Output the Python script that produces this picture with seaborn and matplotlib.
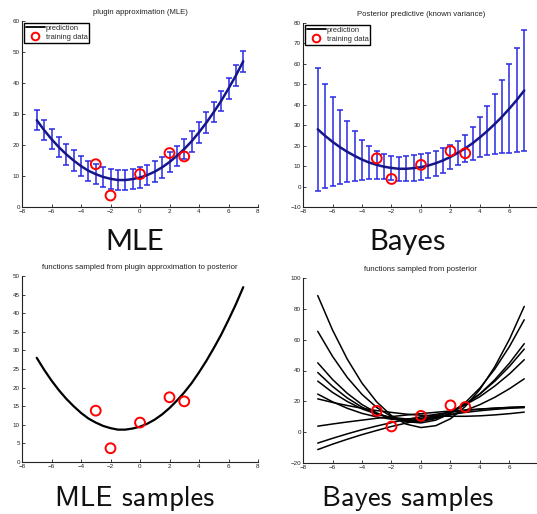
import numpy as np
import pandas as pd
import matplotlib
matplotlib.use("Agg")
import matplotlib.pyplot as plt
from matplotlib.lines import Line2D
import seaborn as sns

# ---------------- data ----------------
train_x = [-3, -2, 0, 2, 3]
train_y = [13.8, 3.7, 10.6, 17.4, 16.3]

grid_x = [-7, -6.5, -6, -5.5, -5, -4.5, -4, -3.5, -3, -2.5, -2, -1.5, -1, -0.5,
          0, 0.5, 1, 1.5, 2, 2.5, 3, 3.5, 4, 4.5, 5, 5.5, 6, 6.5, 7]
pred_y = [28.0, 24.8, 21.9, 19.3, 17.0, 15.0, 13.2, 11.7, 10.6, 9.7, 9.1, 8.7, 8.7, 9.0,
          9.5, 10.3, 11.4, 12.8, 14.5, 16.5, 18.7, 21.2, 24.1, 27.2, 30.6, 34.2, 38.2, 42.4, 47.0]
mle_err = [3.3, 3.3, 3.3, 3.3, 3.3, 3.3, 3.3, 3.3, 3.3, 3.3, 3.3, 3.3, 3.3, 3.3,
           3.3, 3.3, 3.3, 3.3, 3.3, 3.3, 3.3, 3.3, 3.3, 3.3, 3.3, 3.3, 3.3, 3.3, 3.3]
bayes_err = [30.0, 25.6, 21.7, 18.1, 14.9, 12.1, 9.8, 7.9, 6.8, 6.0, 6.0, 6.0, 6.1, 6.3,
             6.4, 6.3, 6.2, 6.1, 6.0, 5.8, 6.6, 8.0, 9.7, 12.0, 14.7, 17.9, 21.7, 25.5, 29.7]

sample_x = [-7, -6, -5, -4, -3, -2, -1, 0, 1, 2, 3, 4, 5, 6, 7]
sample_1 = [88.6, 66.3, 47.4, 31.8, 19.6, 10.7, 5.2, 3.0, 4.2, 8.7, 16.6, 27.8, 42.4, 60.3, 81.6]
sample_2 = [65.4, 49.2, 35.5, 24.5, 16.0, 10.1, 6.8, 6.0, 7.8, 12.2, 19.2, 28.7, 40.9, 55.6, 72.9]
sample_3 = [45.0, 34.2, 25.2, 17.9, 12.5, 8.8, 7.0, 7.0, 8.8, 12.4, 17.8, 24.9, 34.0, 44.8, 57.4]
sample_4 = [38.7, 29.7, 22.2, 16.2, 11.8, 9.0, 7.7, 8.0, 9.9, 13.3, 18.3, 24.8, 33.0, 42.7, 53.9]
sample_5 = [33.1, 25.8, 19.9, 15.1, 11.7, 9.6, 8.6, 9.0, 10.6, 13.5, 17.7, 23.1, 29.9, 37.8, 47.0]
sample_6 = [24.7, 19.7, 15.5, 12.2, 9.9, 8.4, 7.7, 8.0, 9.2, 11.2, 14.1, 17.9, 22.6, 28.2, 34.6]
sample_7 = [21.6, 19.3, 17.3, 15.5, 14.0, 12.8, 11.7, 11.0, 10.5, 10.3, 10.3, 10.6, 11.2, 12.0, 13.0]
sample_8 = [3.9, 5.3, 6.6, 7.8, 9.0, 10.1, 11.1, 12.0, 12.9, 13.7, 14.4, 15.0, 15.6, 16.1, 16.5]
sample_9 = [-7.1, -4.0, -1.1, 1.6, 4.0, 6.2, 8.2, 10.0, 11.6, 12.9, 14.0, 14.9, 15.5, 16.0, 16.2]
sample_10 = [-11.3, -7.8, -4.6, -1.6, 1.1, 3.7, 5.9, 8.0, 9.8, 11.4, 12.8, 13.9, 14.8, 15.5, 15.9]

titles = ["plugin approximation (MLE)", "Posterior predictive (known variance)",
          "functions sampled from plugin approximation to posterior",
          "functions sampled from posterior"]
captions = ["MLE", "Bayes", "MLE samples", "Bayes samples"]

# ---------------- style ----------------
sns.set_theme(style="white")
plt.rcParams['font.family'] = ['Liberation Sans', 'DejaVu Sans']
plt.rcParams['xtick.direction'] = 'in'
plt.rcParams['ytick.direction'] = 'in'

fig = plt.figure(figsize=(5.37, 5.14), dpi=100)
W, H = 537.0, 514.0

def make_ax(left, top, right, bottom):
    return fig.add_axes([left / W, 1 - bottom / H, (right - left) / W, (bottom - top) / H])

ax1 = make_ax(22, 21, 258, 207)
ax2 = make_ax(303, 23, 539, 207)
ax3 = make_ax(22, 276, 258, 462)
ax4 = make_ax(303, 278, 539, 463)

line_blue = '#16168a'
bar_blue = '#2a2ae6'

df_pred = pd.DataFrame({'x': grid_x, 'y': pred_y})
df_train = pd.DataFrame({'x': train_x, 'y': train_y})

def style_ax(ax, ylim, yticks, title, xticks):
    ax.set_xlim(-8, 8)
    ax.set_ylim(*ylim)
    ax.set_xticks(xticks)
    ax.set_yticks(yticks)
    for s in ['top', 'right']:
        ax.spines[s].set_visible(False)
    for s in ['left', 'bottom']:
        ax.spines[s].set_color('#222222')
        ax.spines[s].set_linewidth(0.8)
    ax.tick_params(axis='both', labelsize=4.5, length=2.5, width=0.6, colors='#222222',
                   pad=1.5, left=True, bottom=True)
    ax.set_xlabel('')
    ax.set_ylabel('')
    ax.set_title(title, fontsize=5.6, pad=5, color='#222222')

def add_legend(ax):
    handles = [Line2D([], [], color='black', lw=1.3),
               Line2D([], [], color='red', marker='o', ls='none', markersize=5.5,
                      markerfacecolor='none', markeredgewidth=1.4)]
    leg = ax.legend(handles, ['prediction', 'training data'], loc='upper left',
                    prop={'family': 'Liberation Sans', 'size': 5.4},
                    frameon=True, fancybox=False, framealpha=1,
                    edgecolor='black', borderpad=0.25, labelspacing=0.2,
                    handlelength=2.5, handletextpad=0.15, borderaxespad=0.25)
    leg.get_frame().set_linewidth(1.0)

def draw_train(ax):
    sns.scatterplot(data=df_train, x='x', y='y', ax=ax, marker='o', s=50,
                    facecolors='none', edgecolor='red', linewidth=1.4, zorder=5)

full_ticks = list(range(-8, 9, 2))
cut_ticks = list(range(-8, 7, 2))

# Top left: MLE
ax1.errorbar(grid_x, pred_y, yerr=mle_err, fmt='none', ecolor=bar_blue,
             elinewidth=1.1, capsize=2.2, capthick=1.1, zorder=2)
sns.lineplot(data=df_pred, x='x', y='y', ax=ax1, color=line_blue, lw=1.8, zorder=3)
draw_train(ax1)
style_ax(ax1, (0, 60), range(0, 61, 10), titles[0], full_ticks)
add_legend(ax1)

# Top right: Bayes
ax2.errorbar(grid_x, pred_y, yerr=bayes_err, fmt='none', ecolor=bar_blue,
             elinewidth=1.1, capsize=2.2, capthick=1.1, zorder=2)
sns.lineplot(data=df_pred, x='x', y='y', ax=ax2, color=line_blue, lw=1.8, zorder=3)
draw_train(ax2)
style_ax(ax2, (-10, 80), range(-10, 81, 10), titles[1], cut_ticks)
add_legend(ax2)

# Bottom left: MLE samples
sns.lineplot(data=df_pred, x='x', y='y', ax=ax3, color='black', lw=1.6, zorder=3)
draw_train(ax3)
style_ax(ax3, (0, 50), range(0, 51, 5), titles[2], full_ticks)

# Bottom right: Bayes samples
samples = [sample_1, sample_2, sample_3, sample_4, sample_5,
           sample_6, sample_7, sample_8, sample_9, sample_10]
rows = []
for i, s in enumerate(samples):
    for xv, yv in zip(sample_x, s):
        rows.append((i, xv, yv))
df_s = pd.DataFrame(rows, columns=['sample', 'x', 'y'])
sns.lineplot(data=df_s, x='x', y='y', units='sample', estimator=None, ax=ax4,
             color='black', lw=1.1, zorder=3)
draw_train(ax4)
style_ax(ax4, (-20, 100), range(-20, 101, 20), titles[3], cut_ticks)

# Captions
fig.text(135 / W, 1 - 250 / H, captions[0], ha='center', va='baseline',
         fontsize=21, family=['Lato', 'DejaVu Sans'], color='#111111')
fig.text(408 / W, 1 - 250 / H, captions[1], ha='center', va='baseline',
         fontsize=21, family=['Lato', 'DejaVu Sans'], color='#111111')
fig.text(135 / W, 1 - 506 / H, captions[2], ha='center', va='baseline',
         fontsize=20.5, family=['cmss10', 'DejaVu Sans'], color='#111111')
fig.text(408 / W, 1 - 506 / H, captions[3], ha='center', va='baseline',
         fontsize=20.5, family=['cmss10', 'DejaVu Sans'], color='#111111')

fig.savefig('out.png', dpi=100)
